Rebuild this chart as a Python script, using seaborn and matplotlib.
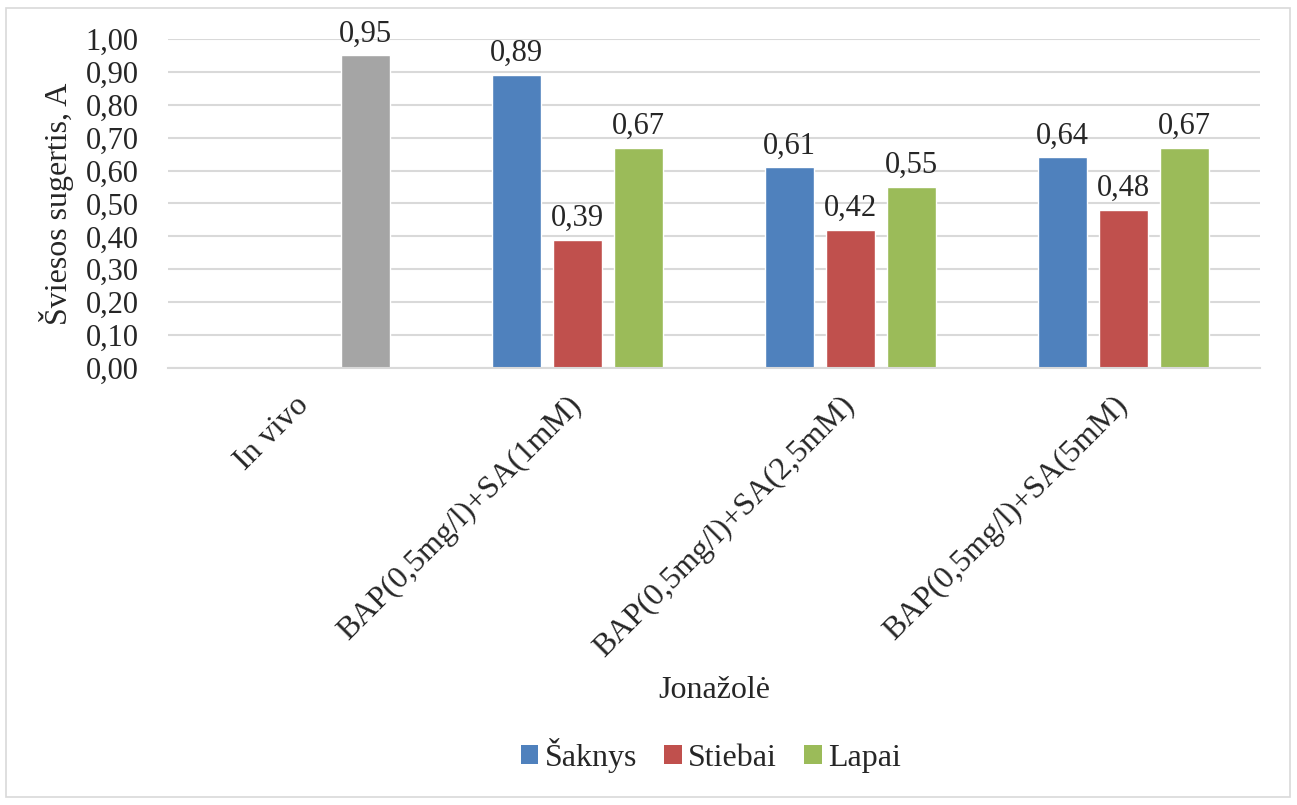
import numpy as np
import pandas as pd
import matplotlib
matplotlib.use("Agg")
import matplotlib.pyplot as plt
from matplotlib.patches import Rectangle, Patch
import seaborn as sns

# Data
CATEGORIES = ["In vivo", "BAP(0,5mg/l)+SA(1mM)",
              "BAP(0,5mg/l)+SA(2,5mM)", "BAP(0,5mg/l)+SA(5mM)"]
SERIES = ["Šaknys", "Stiebai", "Lapai"]
SAKNYS  = [np.nan, 0.89, 0.61, 0.64]
STIEBAI = [np.nan, 0.39, 0.42, 0.48]
LAPAI   = [0.95, 0.67, 0.55, 0.67]
Y_TICKS = [0.0, 0.1, 0.2, 0.3, 0.4, 0.5, 0.6, 0.7, 0.8, 0.9, 1.0]

COLORS = {"Šaknys": "#4F81BD", "Stiebai": "#C0504D", "Lapai": "#9BBB59"}
IN_VIVO_COLOR = "#A5A5A5"
GRID = "#D9D9D9"
FS_NUM = 22
FS_TXT = 23


def comma(v):
    return f"{v:.2f}".replace(".", ",")


rows = []
for series, vals in zip(SERIES, [SAKNYS, STIEBAI, LAPAI]):
    for cat, v in zip(CATEGORIES, vals):
        if np.isfinite(v):
            rows.append({"cat": cat, "series": series, "value": v})
df = pd.DataFrame(rows)

sns.set_style("white")
plt.rcParams["font.family"] = ["Liberation Serif", "DejaVu Serif"]

fig = plt.figure(figsize=(12.97, 8.05), dpi=100)
ax = fig.add_axes([168 / 1297, 1 - 368 / 805, (1260 - 168) / 1297, (368 - 39) / 805])

sns.barplot(
    data=df, x="cat", y="value", hue="series",
    order=CATEGORIES, hue_order=SERIES, palette=COLORS,
    width=0.671, gap=0.21, errorbar=None, legend=False, ax=ax,
    saturation=1,
)

# In vivo bar is drawn grey in the original
for cont in ax.containers:
    labels = []
    for bar in cont:
        h = bar.get_height()
        labels.append(comma(h) if np.isfinite(h) else "")
        if abs(bar.get_x() + bar.get_width() / 2 - 0.224) < 0.05 and np.isfinite(h):
            bar.set_facecolor(IN_VIVO_COLOR)
    ax.bar_label(cont, labels=labels, padding=5, fontsize=FS_NUM)

ax.set_ylim(0, 1.0)
ax.set_xlim(-0.5, len(CATEGORIES) - 0.5)
ax.set_yticks(Y_TICKS)
ax.set_yticklabels([comma(t) for t in Y_TICKS], fontsize=FS_NUM)
ax.yaxis.grid(True, color=GRID, linewidth=1.5)
ax.set_axisbelow(True)
for side in ["top", "right", "left"]:
    ax.spines[side].set_visible(False)
ax.spines["bottom"].set_color(GRID)
ax.spines["bottom"].set_linewidth(1.5)
ax.tick_params(axis="y", length=0, pad=21)
ax.tick_params(axis="x", length=0, pad=24)

ax.set_xticks(range(len(CATEGORIES)))
ax.set_xticklabels(CATEGORIES, rotation=45, ha="right", va="center",
                   rotation_mode="anchor", fontsize=FS_TXT)
ax.set_xlabel("")
ax.set_ylabel("Šviesos sugertis, A", fontsize=FS_TXT)
ax.yaxis.set_label_coords(-0.086, 0.5)

fig.text(714 / 1297, 1 - 690 / 805, "Jonažolė", ha="center", va="center", fontsize=FS_TXT)

handles = [Patch(facecolor=COLORS[s], edgecolor="none") for s in SERIES]
fig.legend(handles, SERIES, loc="center", bbox_to_anchor=(711 / 1297, 1 - 755 / 805),
           ncol=3, frameon=False, fontsize=FS_TXT, handlelength=0.55, handleheight=0.55,
           handletextpad=0.2, columnspacing=0.85)

fig.patches.append(Rectangle((6 / 1297, 8 / 805), 1284 / 1297, 789 / 805,
                             transform=fig.transFigure, fill=False,
                             edgecolor=GRID, linewidth=1.2))

fig.savefig("out.png", dpi=100)
